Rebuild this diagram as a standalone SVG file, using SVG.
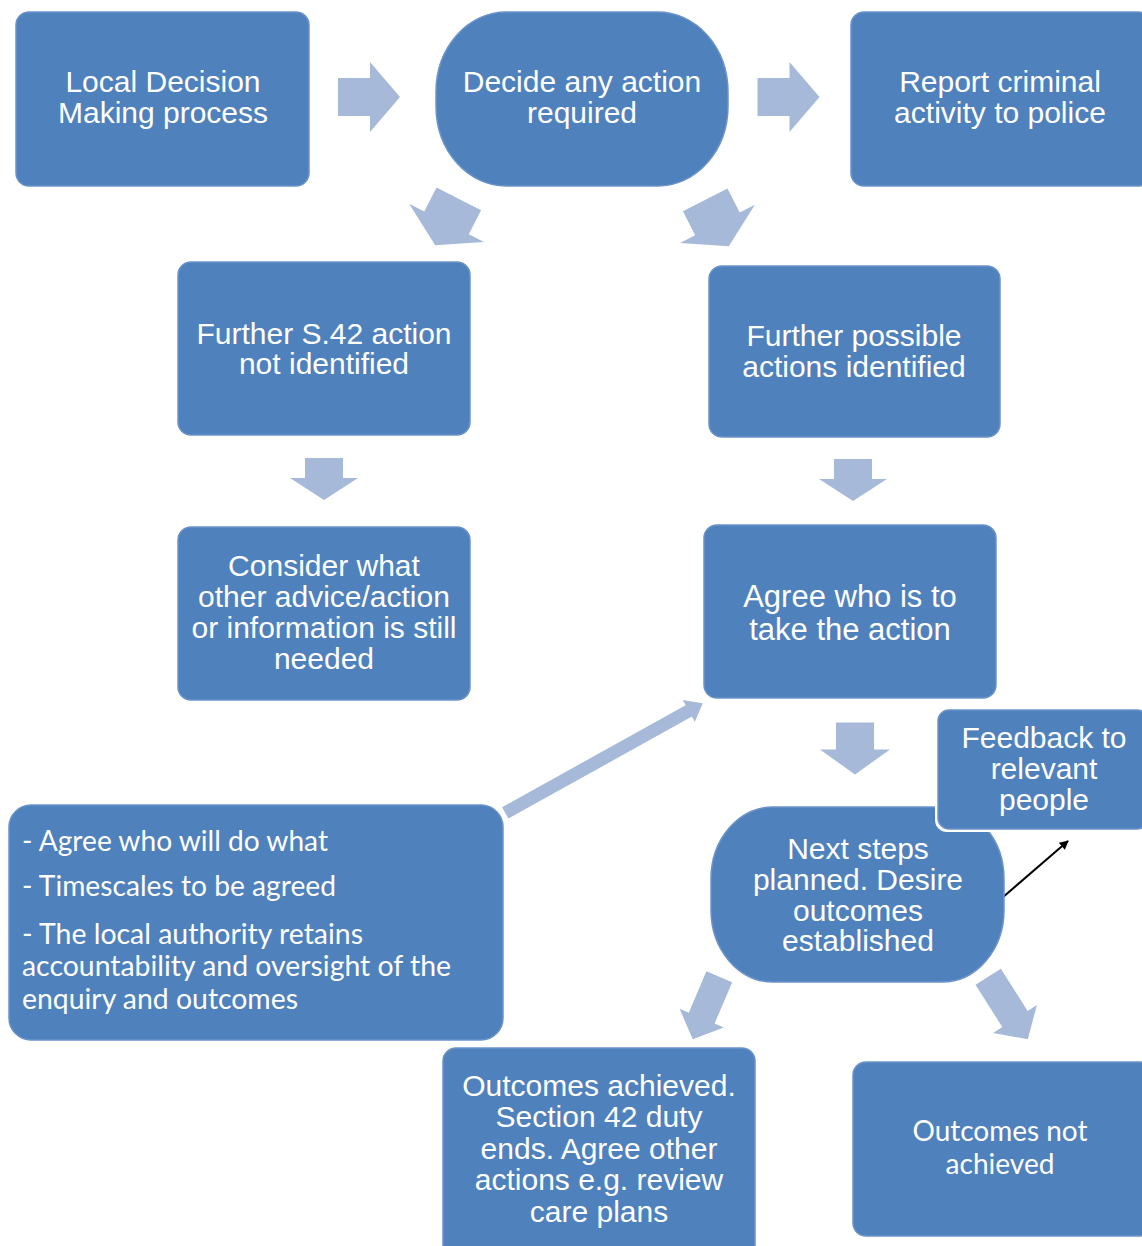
<svg xmlns="http://www.w3.org/2000/svg" width="1142" height="1246" viewBox="0 0 1142 1246">
<defs>
<style>
.box{fill:#4f81bd;stroke:#6b93c9;stroke-width:1.5}
.arr{fill:#a7b9d9}
.t{font-family:"Liberation Sans",Arial,sans-serif;font-size:30px;fill:#ffffff;text-anchor:middle}
.c{font-family:Lato,"Open Sans",sans-serif;font-size:28px;fill:#ffffff}
</style>
<marker id="blk" viewBox="0 0 10 10" refX="9" refY="5" markerWidth="10" markerHeight="9" orient="auto" markerUnits="userSpaceOnUse">
<path d="M0,0 L10,5 L0,10 z" fill="#000"/>
</marker>
</defs>
<rect width="1142" height="1246" fill="#ffffff"/>

<g id="connectors">
<polygon class="arr" transform="translate(369,97)" points="-31,-19 1,-19 1,-35 31,0 1,35 1,19 -31,19"/>
<polygon class="arr" transform="translate(788.5,97)" points="-31,-19 1,-19 1,-35 31,0 1,35 1,19 -31,19"/>
<polygon class="arr" transform="translate(447,222) rotate(117)" points="-26,-25 1,-25 1,-42 26,0 1,42 1,25 -26,25"/>
<polygon class="arr" transform="translate(717,223) rotate(63)" points="-26,-25 1,-25 1,-42 26,0 1,42 1,25 -26,25"/>
<polygon class="arr" transform="translate(324,479) rotate(90)" points="-21,-19 -1,-19 -1,-34 21,0 -1,34 -1,19 -21,19"/>
<polygon class="arr" transform="translate(853,480) rotate(90)" points="-21,-19 -1,-19 -1,-34 21,0 -1,34 -1,19 -21,19"/>
<polygon class="arr" transform="translate(855,748.5) rotate(90)" points="-26,-19 1,-19 1,-35 26,0 1,35 1,19 -26,19"/>
<polygon class="arr" transform="translate(604,758) rotate(-29.05)" points="-113,-6.5 97,-6.5 97,-12.5 113,0 97,12.5 97,6.5 -113,6.5"/>
<polygon class="arr" transform="translate(706,1008) rotate(113)" points="-34,-14 11,-14 11,-24 34,0 11,24 11,14 -34,14"/>
<polygon class="arr" transform="translate(1008,1008) rotate(57.6)" points="-37,-15 13,-15 13,-26 37,0 13,26 13,15 -37,15"/>
<line x1="1002" y1="898" x2="1068" y2="841" stroke="#000" stroke-width="2" marker-end="url(#blk)"/>
</g>

<g id="n-local">
<rect class="box" x="16" y="12" width="293" height="174" rx="13"/>
<text class="t" x="163" y="92">Local Decision</text>
<text class="t" x="163" y="123">Making process</text>
</g>

<g id="n-decide">
<rect class="box" x="436" y="12" width="292" height="174" rx="70" ry="80"/>
<text class="t" x="582" y="92">Decide any action</text>
<text class="t" x="582" y="123">required</text>
</g>

<g id="n-report">
<rect class="box" x="851" y="12" width="300" height="174" rx="13"/>
<text class="t" x="1000" y="92">Report criminal</text>
<text class="t" x="1000" y="123">activity to police</text>
</g>

<g id="n-further-s42">
<rect class="box" x="178" y="262" width="292" height="173" rx="13"/>
<text class="t" x="324" y="344">Further S.42 action</text>
<text class="t" x="324" y="374">not identified</text>
</g>

<g id="n-further-possible">
<rect class="box" x="709" y="266" width="291" height="171" rx="13"/>
<text class="t" x="854" y="346">Further possible</text>
<text class="t" x="854" y="377">actions identified</text>
</g>

<g id="n-consider">
<rect class="box" x="178" y="527" width="292" height="173" rx="13"/>
<text class="t" x="324" y="576">Consider what</text>
<text class="t" x="324" y="607">other advice/action</text>
<text class="t" x="324" y="638">or information is still</text>
<text class="t" x="324" y="669">needed</text>
</g>

<g id="n-agree">
<rect class="box" x="704" y="525" width="292" height="173" rx="13"/>
<text class="t" x="850" y="607" style="font-size:31px">Agree who is to</text>
<text class="t" x="850" y="640" style="font-size:31px">take the action</text>
</g>

<g id="n-next">
<rect class="box" x="711" y="807" width="293" height="175" rx="62" ry="72"/>
<text class="t" x="858" y="859">Next steps</text>
<text class="t" x="858" y="890">planned. Desire</text>
<text class="t" x="858" y="921">outcomes</text>
<text class="t" x="858" y="951">established</text>
</g>

<g id="n-feedback">
<rect x="935" y="707" width="215" height="125" rx="12" fill="#ffffff"/>
<rect class="box" x="938" y="710" width="210" height="119" rx="11"/>
<text class="t" x="1044" y="748">Feedback to</text>
<text class="t" x="1044" y="779">relevant</text>
<text class="t" x="1044" y="810">people</text>
</g>

<g id="n-notes">
<rect class="box" x="9" y="805" width="494" height="235" rx="22"/>
<text class="c" x="22" y="851" textLength="306" lengthAdjust="spacingAndGlyphs">- Agree who will do what</text>
<text class="c" x="22" y="896" textLength="314" lengthAdjust="spacingAndGlyphs">- Timescales to be agreed</text>
<text class="c" x="22" y="944" textLength="341" lengthAdjust="spacingAndGlyphs">- The local authority retains</text>
<text class="c" x="22" y="976" textLength="429" lengthAdjust="spacingAndGlyphs">accountability and oversight of the</text>
<text class="c" x="22" y="1009" textLength="276" lengthAdjust="spacingAndGlyphs">enquiry and outcomes</text>
</g>

<g id="n-achieved">
<rect class="box" x="443" y="1048" width="312" height="210" rx="13"/>
<text class="t" x="599" y="1096">Outcomes achieved.</text>
<text class="t" x="599" y="1127">Section 42 duty</text>
<text class="t" x="599" y="1159">ends. Agree other</text>
<text class="t" x="599" y="1190">actions e.g. review</text>
<text class="t" x="599" y="1222">care plans</text>
</g>

<g id="n-not-achieved">
<rect class="box" x="853" y="1062" width="300" height="174" rx="13"/>
<text class="c" x="1000" y="1141" style="text-anchor:middle" textLength="175" lengthAdjust="spacingAndGlyphs">Outcomes not</text>
<text class="c" x="1000" y="1174" style="text-anchor:middle" textLength="109" lengthAdjust="spacingAndGlyphs">achieved</text>
</g>
</svg>
